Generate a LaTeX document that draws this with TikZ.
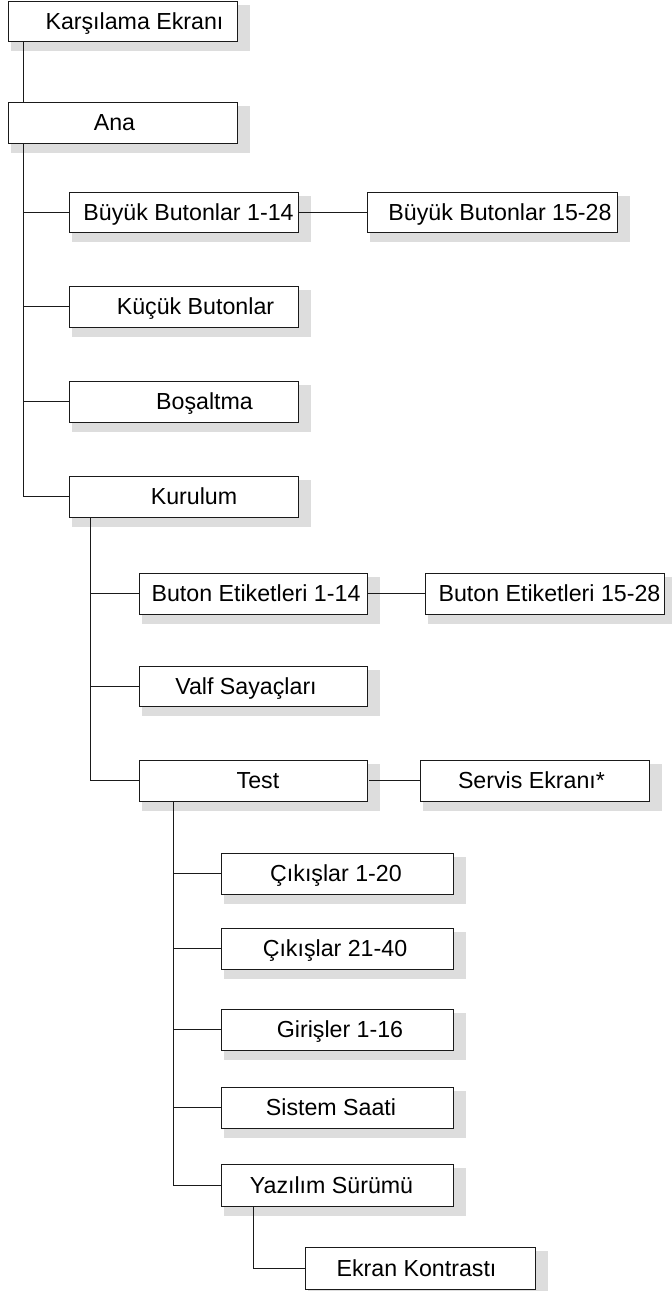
\documentclass[tikz,border=0pt]{standalone}
\usepackage{fontspec}
\setmainfont{Liberation Sans}
\usetikzlibrary{backgrounds}
\definecolor{shd}{HTML}{DDDDDD}
\definecolor{ln}{HTML}{1A1A1A}
\tikzset{
  bx/.style={draw=ln, line width=0.9pt, fill=white, rectangle, inner sep=0pt, outer sep=0pt,
    text height=16.6pt, text depth=0pt, font=\fontsize{23.2pt}{27pt}\selectfont},
  conn/.style={draw=ln, line width=0.9pt},
  shadowbox/.style={fill=shd, draw=none}
}
\newcommand{\bxnode}[7]{%
  \node[bx, minimum width={#4pt-#2pt}, minimum height={#5pt-#3pt}] (#1) at ({(#2+#4)/2},{(#3+#5)/2})
    {\makebox[\dimexpr #4pt-#2pt\relax]{\hspace*{#6pt}\hspace*{#6pt}#7}};
}
\begin{document}
\begin{tikzpicture}[x=1pt,y=-1pt]
\useasboundingbox (0,0) rectangle (672,1291);
% boxes: name, x1, y1, x2, y2, text-offset, text
\bxnode{ka}{8}{1}{237}{41}{12}{Karşılama Ekranı}
\bxnode{ana}{8}{102}{237}{143}{-8}{Ana}
\bxnode{bbA}{69}{192}{298}{232}{5}{Büyük Butonlar 1-14}
\bxnode{bbB}{367}{192}{617}{232}{8}{Büyük Butonlar 15-28}
\bxnode{kb}{69}{286}{298}{327}{12}{Küçük Butonlar}
\bxnode{bo}{69}{381}{298}{422}{21}{Boşaltma}
\bxnode{ku}{69}{476}{298}{517}{10.5}{Kurulum}
\bxnode{beA}{139}{573}{367}{614}{3}{Buton Etiketleri 1-14}
\bxnode{beB}{425}{573}{664}{614}{5}{Buton Etiketleri 15-28}
\bxnode{va}{139}{666}{367}{706}{-7}{Valf Sayaçları}
\bxnode{te}{139}{760}{367}{801}{5}{Test}
\bxnode{se}{420}{760}{649}{801}{-3}{Servis Ekranı*}
\bxnode{cA}{221}{853}{453}{894}{-1}{Çıkışlar 1-20}
\bxnode{cB}{221}{928}{453}{969}{-2}{Çıkışlar 21-40}
\bxnode{gi}{221}{1009}{453}{1050}{3}{Girişler 1-16}
\bxnode{si}{221}{1087}{453}{1128}{-6}{Sistem Saati}
\bxnode{ya}{221}{1164}{453}{1206}{-5.5}{Yazılım Sürümü}
\bxnode{ek}{305}{1247}{535}{1289}{-3.5}{Ekran Kontrastı}
% page background and shadows
\begin{scope}[on background layer]
  \fill[white] (0,0) rectangle (672,1291);
  \foreach \n in {ka,ana,bbA,bbB,kb,bo,ku,beA,beB,va,te,se,cA,cB,gi,si,ya,ek}
    \fill[shadowbox] ([shift={(3,4)}]\n.north west) rectangle ([shift={(13,10)}]\n.south east);
\end{scope}
% trunks
\coordinate (t1) at ([xshift=15pt]ana.south west);
\coordinate (t2) at ([xshift=21.5pt]ku.south west);
\coordinate (t3) at ([xshift=34pt]te.south west);
\coordinate (t4) at ([xshift=32pt]ya.south west);
\draw[conn] ([xshift=15pt]ka.south west) -- ([xshift=15pt]ana.north west);
\draw[conn] (t1) |- (ku.west);
\draw[conn] (t1 |- bbA.west) -- (bbA.west);
\draw[conn] (t1 |- kb.west) -- (kb.west);
\draw[conn] (t1 |- bo.west) -- (bo.west);
\draw[conn] (bbA.east) -- (bbB.west);
\draw[conn] (t2) |- (te.west);
\draw[conn] (t2 |- beA.west) -- (beA.west);
\draw[conn] (t2 |- va.west) -- (va.west);
\draw[conn] (beA.east) -- (beB.west);
\draw[conn] ([xshift=2pt]te.east) -- (se.west);
\draw[conn] (t3) |- (ya.west);
\draw[conn] (t3 |- cA.west) -- (cA.west);
\draw[conn] (t3 |- cB.west) -- (cB.west);
\draw[conn] (t3 |- gi.west) -- (gi.west);
\draw[conn] (t3 |- si.west) -- (si.west);
\draw[conn] (t4) |- (ek.west);
\end{tikzpicture}
\end{document}
